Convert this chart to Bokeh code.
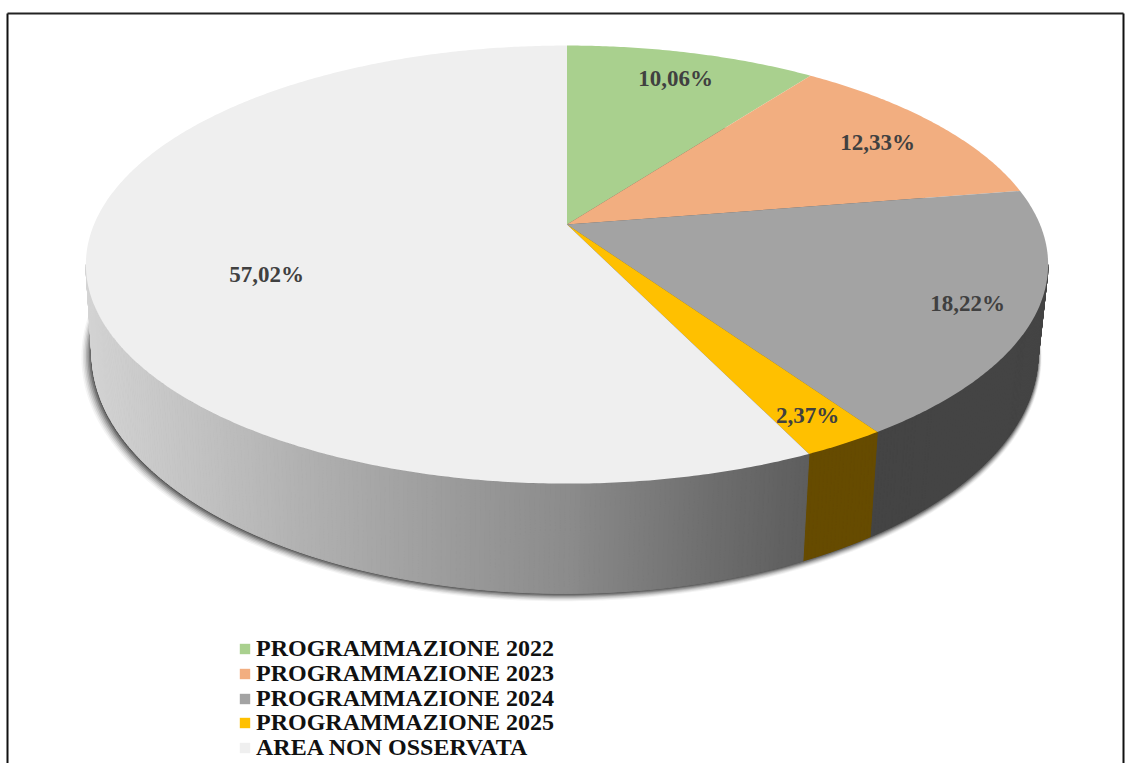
import numpy as np
from bokeh.plotting import figure
from bokeh.models import Legend, LegendItem, Range1d
from bokeh.core.properties import value
from bokeh.embed import file_html
from bokeh.resources import INLINE

categories = ["PROGRAMMAZIONE 2022", "PROGRAMMAZIONE 2023", "PROGRAMMAZIONE 2024",
              "PROGRAMMAZIONE 2025", "AREA NON OSSERVATA"]
shares = [10.06, 12.33, 18.22, 2.37, 57.02]
labels = ["10,06%", "12,33%", "18,22%", "2,37%", "57,02%"]
colors = ["#A9D08E", "#F2AE80", "#A3A3A3", "#FFC000", "#EFEFEF"]

W, H = 1126, 763
C = 0.183  # perspective strength
APEX_X, APEX_Y = 566.5, 224


def rim(theta, cx, cy, a, k):
    """Project a clockwise-from-top angle (degrees) on a tilted disc."""
    t = np.radians(theta)
    w = 1 + C * np.cos(t)
    return cx + a * np.sin(t) / w, cy - k * np.cos(t) / w


def top(theta):
    return rim(theta, APEX_X, APEX_Y, 473, 211.7)


def bottom(theta, grow=0.0):
    return rim(theta, 564.5 - grow * 0.5, 309 + grow * 0.45, 465 + grow, 232 + grow * 0.55)


def wall_shade(x):
    return np.interp(x, [90, 300, 450, 567, 700, 805], [212, 178, 156, 140, 112, 94])


edges = np.concatenate([[0], np.cumsum(shares)]) * 3.6 / (sum(shares) / 100)

p = figure(width=W, height=H, output_backend="svg", toolbar_location=None,
           x_range=Range1d(0, W), y_range=Range1d(H, 0), min_border=0,
           outline_line_color=None, background_fill_color="white",
           border_fill_color="white", x_axis_type=None, y_axis_type=None)
p.xgrid.visible = False
p.ygrid.visible = False

# image frame
frame_x0, frame_x1, frame_y0 = 7, 1123, 13
p.line([frame_x0, frame_x0], [frame_y0, H], line_color="#111111", line_width=2)
p.line([frame_x1, frame_x1], [frame_y0, H], line_color="#111111", line_width=2)
p.line([frame_x0, frame_x1], [frame_y0, frame_y0], line_color="#222222", line_width=2)

# soft shadow below the disc
ring = np.linspace(0, 360, 361)
for g, al in [(7, 0.05), (6, 0.08), (5, 0.11), (4, 0.15), (3, 0.2), (2, 0.27), (1, 0.32)]:
    sx, sy = bottom(ring, g)
    p.patch(sx, sy, fill_color="#222222", fill_alpha=al, line_color=None)

# side wall
LEFT_LIMIT = 360 - np.degrees(np.arccos(-C))
RIGHT_LIMIT = np.degrees(np.arccos(-C))
xs, ys, fills = [], [], []
for i in range(5):
    lo, hi = max(edges[i], RIGHT_LIMIT), min(edges[i + 1], LEFT_LIMIT)
    if hi <= lo:
        continue
    steps = np.linspace(lo, hi, max(2, int((hi - lo) * 2) + 2))
    for a0, a1 in zip(steps[:-1], steps[1:]):
        tx0, ty0 = top(a0)
        tx1, ty1 = top(a1)
        bx0, by0 = bottom(a0)
        bx1, by1 = bottom(a1)
        xs.append([tx0, tx1, bx1, bx0])
        ys.append([ty0, ty1, by1, by0])
        if i == 2:
            fills.append("#444444")
        elif i == 3:
            fills.append("#664B00")
        else:
            g = int(wall_shade((tx0 + tx1 + bx0 + bx1) / 4))
            fills.append(f"#{g:02x}{g:02x}{g:02x}")
p.patches(xs, ys, fill_color=fills, line_color=fills, line_width=1)

# top face
items = []
for i, cat in enumerate(categories):
    arc = np.linspace(edges[i], edges[i + 1], max(3, int(edges[i + 1] - edges[i]) * 2))
    ax, ay = top(arc)
    r = p.patch(np.concatenate([[APEX_X], ax]), np.concatenate([[APEX_Y], ay]),
                fill_color=colors[i], line_color=None)
    items.append(LegendItem(label=value(cat), renderers=[r]))

# data labels
lab_x = [675, 877, 967, 807, 266]
lab_y = [78, 142, 303, 415, 274]
p.text(lab_x, lab_y, text=labels, text_font=value("Liberation Serif"), text_font_style="bold",
       text_font_size="23px", text_color="#404040", text_align="center", text_baseline="middle")

# legend rows, tighter than one Legend's line height allows
row_centres = [648, 673, 698, 722, 747]
for item, yc in zip(items, row_centres):
    legend = Legend(items=[item], location=(238, H - yc - 14), orientation="vertical",
                    background_fill_alpha=0, border_line_color=None, padding=0, margin=0,
                    glyph_width=13, glyph_height=13, label_standoff=5, spacing=0,
                    label_height=13, label_text_font="Liberation Serif", label_text_font_style="bold",
                    label_text_font_size="24px", label_text_color="#111111")
    p.add_layout(legend, "center")

open("out.html", "w").write(file_html(p, INLINE))
